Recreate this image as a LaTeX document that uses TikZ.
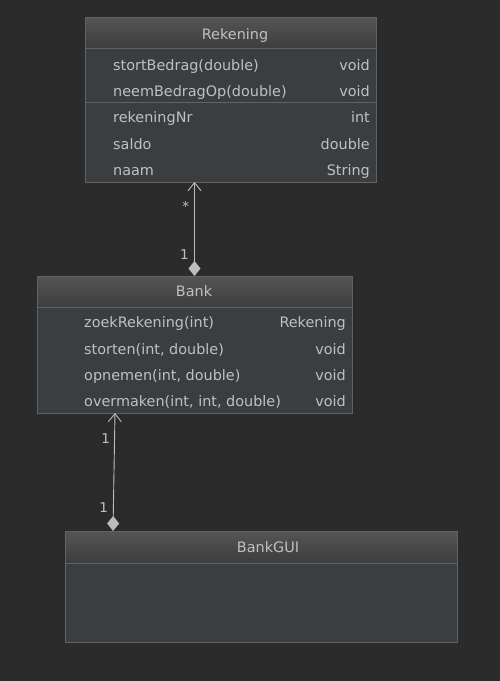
\documentclass[tikz,border=0pt]{standalone}
\usepackage{fontspec}
\setmainfont{DejaVu Sans}
\usetikzlibrary{arrows.meta}
\definecolor{bgdark}{HTML}{2B2B2B}
\definecolor{boxfill}{HTML}{3B3E41}
\definecolor{boxline}{HTML}{606264}
\definecolor{headtop}{HTML}{555555}
\definecolor{headbot}{HTML}{3D3D3D}
\definecolor{fgtext}{HTML}{C0C0C0}
\definecolor{linecol}{HTML}{BDBDBD}
\tikzset{>=latex}
\tikzstyle{classbody}=[rectangle,draw=boxline,fill=boxfill,line width=0.9pt,inner sep=0pt,outer sep=0pt]
\tikzstyle{classhead}=[rectangle,draw=boxline,top color=headtop,bottom color=headbot,line width=0.9pt,inner sep=0pt,outer sep=0pt]
\tikzstyle{title}=[anchor=base,text=fgtext,inner sep=0pt,font=\fontsize{14.4}{17}\selectfont]
\tikzstyle{member}=[anchor=base west,text=fgtext,inner sep=0pt,font=\fontsize{14.4}{17}\selectfont]
\tikzstyle{mtype}=[anchor=base east,text=fgtext,inner sep=0pt,font=\fontsize{14.4}{17}\selectfont]
\tikzstyle{mult}=[text=fgtext,inner sep=0pt,font=\fontsize{13.5}{15}\selectfont]
\tikzstyle{assoc}=[draw=linecol,line width=0.9pt,{Diamond[length=15pt,width=12pt,fill=linecol]}-{Straight Barb[length=8pt,width=13pt]}]

\begin{document}
\begin{tikzpicture}[x=1pt,y=-1pt]
	\fill[bgdark] (0,0) rectangle (500,681);
	\useasboundingbox (0,0) rectangle (500,681);

	% Rekening
	\node[classhead,minimum width=291pt,minimum height=31pt] (rekhead) at (230.5,32.5) {};
	\node[classbody,minimum width=291pt,minimum height=54pt] (rekops) at (230.5,75) {};
	\node[classbody,minimum width=291pt,minimum height=80pt] (rekattr) at (230.5,142) {};
	\node[title] (rektitle) at (235,39.3) {Rekening};

	\node[member] (rekop1) at (113,70) {stortBedrag(double)};
	\node[mtype] (rekop1t) at (370,70) {void};
	\node[member] (rekop2) at (113,96) {neemBedragOp(double)};
	\node[mtype] (rekop2t) at (370,96) {void};
	\node[member] (rekat1) at (113,122.5) {rekeningNr};
	\node[mtype] (rekat1t) at (370,122.5) {int};
	\node[member] (rekat2) at (113,149) {saldo};
	\node[mtype] (rekat2t) at (370,149) {double};
	\node[member] (rekat3) at (113,175.5) {naam};
	\node[mtype] (rekat3t) at (370,175.5) {String};

	% Bank
	\node[classhead,minimum width=315pt,minimum height=31pt] (bankhead) at (194.5,291.5) {};
	\node[classbody,minimum width=315pt,minimum height=106pt] (bankops) at (194.5,360) {};
	\node[title] (banktitle) at (194,296) {Bank};

	\node[member] (bankop1) at (84,327.7) {zoekRekening(int)};
	\node[mtype] (bankop1t) at (346,327.7) {Rekening};
	\node[member] (bankop2) at (84,354) {storten(int, double)};
	\node[mtype] (bankop2t) at (346,354) {void};
	\node[member] (bankop3) at (84,380) {opnemen(int, double)};
	\node[mtype] (bankop3t) at (346,380) {void};
	\node[member] (bankop4) at (84,406) {overmaken(int, int, double)};
	\node[mtype] (bankop4t) at (346,406) {void};

	% BankGUI
	\node[classhead,minimum width=392pt,minimum height=32pt] (guihead) at (261,547) {};
	\node[classbody,minimum width=392pt,minimum height=79pt] (guibody) at (261,602.5) {};
	\node[title] (guititle) at (268,552.7) {BankGUI};

	% associaties
	\draw[assoc] (bankhead.north) -- (bankhead.north |- rekattr.south);
	\node[mult] (mstar) at (185.7,206) {*};
	\node[mult] (mone1) at (184.3,255) {1};

	\draw[assoc] ([xshift=48pt]guihead.north west) -- ([xshift=78pt]bankops.south west);
	\node[mult] (mone2) at (105.7,438.3) {1};
	\node[mult] (mone3) at (103.7,507.7) {1};
\end{tikzpicture}
\end{document}
